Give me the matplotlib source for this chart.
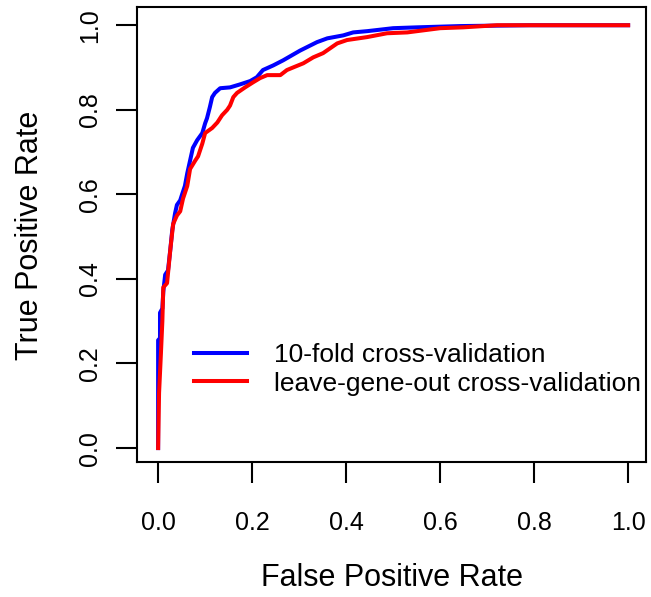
import matplotlib
matplotlib.use("Agg")
import matplotlib.pyplot as plt

plt.rcParams["font.family"] = ["Liberation Sans", "DejaVu Sans"]

# ROC curve vertices (false positive rate, true positive rate)
kfold_fpr = [0.0, 0.0, 0.0, 0.004, 0.004, 0.009, 0.011, 0.015, 0.021, 0.026,
             0.030, 0.036, 0.040, 0.047, 0.051, 0.057, 0.062, 0.068, 0.074,
             0.083, 0.094, 0.100, 0.104, 0.110, 0.115, 0.121, 0.132, 0.153,
             0.174, 0.196, 0.210, 0.223, 0.245, 0.266, 0.302, 0.338, 0.360,
             0.394, 0.415, 0.445, 0.500, 0.551, 0.643, 0.790, 1.0]
kfold_tpr = [0.0, 0.137, 0.255, 0.26, 0.32, 0.33, 0.37, 0.41, 0.42, 0.47,
             0.515, 0.555, 0.575, 0.586, 0.60, 0.62, 0.65, 0.68, 0.71,
             0.728, 0.745, 0.768, 0.78, 0.806, 0.83, 0.84, 0.851, 0.853,
             0.86, 0.868, 0.877, 0.894, 0.905, 0.917, 0.94, 0.96, 0.969,
             0.976, 0.983, 0.986, 0.993, 0.995, 0.998, 1.0, 1.0]

lgo_fpr = [0.0, 0.002, 0.006, 0.009, 0.011, 0.019, 0.026, 0.032, 0.040, 0.047,
           0.053, 0.062, 0.068, 0.079, 0.085, 0.094, 0.100, 0.115, 0.126,
           0.136, 0.147, 0.153, 0.160, 0.168, 0.185, 0.202, 0.217, 0.232,
           0.260, 0.274, 0.287, 0.309, 0.330, 0.351, 0.381, 0.402, 0.445,
           0.487, 0.530, 0.600, 0.649, 0.721, 1.0]
lgo_tpr = [0.0, 0.13, 0.225, 0.30, 0.38, 0.39, 0.47, 0.53, 0.55, 0.56,
           0.59, 0.62, 0.66, 0.68, 0.69, 0.72, 0.745, 0.757, 0.77,
           0.787, 0.80, 0.81, 0.83, 0.84, 0.853, 0.865, 0.875, 0.882,
           0.882, 0.894, 0.90, 0.91, 0.924, 0.934, 0.957, 0.965, 0.972,
           0.981, 0.983, 0.993, 0.995, 1.0, 1.0]

ticks = [0.0, 0.2, 0.4, 0.6, 0.8, 1.0]
tick_labels = ["0.0", "0.2", "0.4", "0.6", "0.8", "1.0"]

fig = plt.figure(figsize=(6.51, 5.97), dpi=100)
ax = fig.add_axes([0.2104, 0.2261, 0.7819, 0.7621])

ax.plot(kfold_fpr, kfold_tpr, color="#0000ff", lw=2.9,
        label="10-fold cross-validation")
ax.plot(lgo_fpr, lgo_tpr, color="#ff0000", lw=2.9,
        label="leave-gene-out cross-validation")

ax.set_xlim(-0.045, 1.038)
ax.set_ylim(-0.033, 1.043)
ax.set_xticks(ticks, tick_labels)
ax.set_yticks(ticks, tick_labels)
for lab in ax.get_yticklabels():
    lab.set_rotation(90)
    lab.set_va("center")
ax.tick_params(length=15, width=1.5, labelsize=18)
ax.tick_params(axis="x", pad=20)
ax.tick_params(axis="y", pad=10)
for s in ax.spines.values():
    s.set_linewidth(1.5)

fig.text(392 / 651, 1 - 578 / 597, "False Positive Rate", fontsize=22,
         ha="center", va="center")
fig.text(30 / 651, 1 - 235 / 597, "True Positive Rate", fontsize=22,
         ha="center", va="center", rotation=90)

ax.legend(loc="center left", bbox_to_anchor=(0.113, 0.204), frameon=False,
          fontsize=19, handlelength=2.0, handletextpad=1.0,
          labelspacing=0.18, borderaxespad=0, borderpad=0)

fig.savefig("out.png", dpi=100)
